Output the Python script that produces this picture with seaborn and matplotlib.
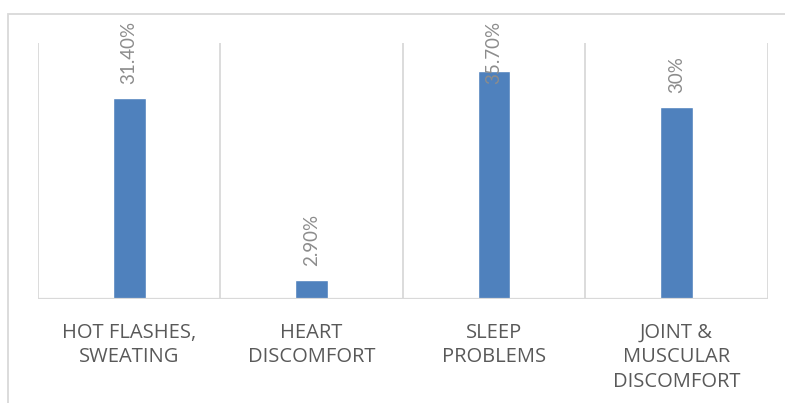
import matplotlib
matplotlib.use("Agg")
import matplotlib.pyplot as plt
import seaborn as sns
import pandas as pd

# chart data
symptoms = ["HOT FLASHES,\nSWEATING", "HEART\nDISCOMFORT", "SLEEP\nPROBLEMS", "JOINT &\nMUSCULAR\nDISCOMFORT"]
percent = [31.4, 2.9, 35.7, 30.0]
value_labels = ["31.40%", "2.90%", "35.70%", "30%"]

df = pd.DataFrame({"symptom": symptoms, "percent": percent})

sns.set_style("white")
plt.rcParams["font.family"] = ["Lato", "DejaVu Sans"]

grid_col = "#D9D9D9"
bar_col = "#4F81BD"

fig = plt.figure(figsize=(7.85, 4.03), dpi=100)
ax = fig.add_axes([0.0484, 0.258, 0.978 - 0.0484, 0.893 - 0.258])

# outer chart border (Excel style)
fig.add_artist(plt.Rectangle((8 / 785, -0.1), 1.2, (403 - 14) / 403 + 0.1,
                             transform=fig.transFigure, fill=False,
                             edgecolor=grid_col, linewidth=1.3, clip_on=False))

sns.barplot(data=df, x="symptom", y="percent", color=bar_col, width=0.18,
            saturation=1, ax=ax, zorder=3)

ax.set_xlim(-0.5, len(symptoms) - 0.5)
ax.set_ylim(0, 40)

# category separators
for xb in [i - 0.5 for i in range(len(symptoms) + 1)]:
    ax.axvline(xb, color=grid_col, linewidth=1.3, zorder=1)
ax.axhline(0, color=grid_col, linewidth=1.6, zorder=4)

for i, (v, lab) in enumerate(zip(percent, value_labels)):
    y = min(v + 2.2, 33.6)
    ax.text(i, y, lab, rotation=90, ha="center", va="bottom",
            fontsize=13.5, color="#8C8C8C", zorder=5)

sns.despine(ax=ax, left=True, bottom=True)
ax.set_yticks([])
ax.set_xlabel("")
ax.set_ylabel("")
ax.tick_params(axis="x", length=0, pad=17, labelsize=14.5, labelcolor="#595959")
for t in ax.get_xticklabels():
    t.set_family(["Open Sans", "DejaVu Sans"])
    t.set_linespacing(1.3)
    t.set_verticalalignment("top")

fig.savefig("out.png", dpi=100)
